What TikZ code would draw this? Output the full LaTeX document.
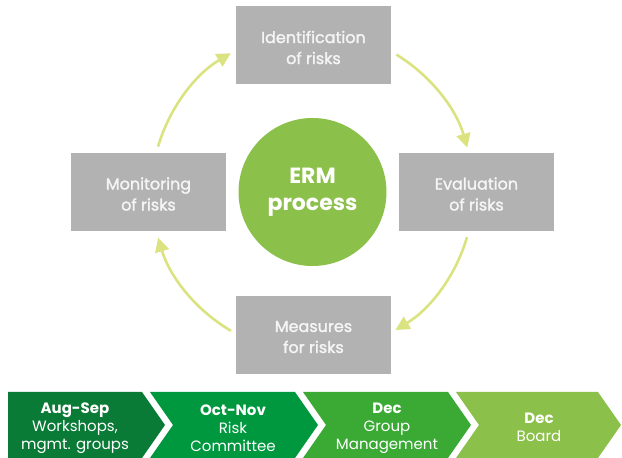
\documentclass[tikz,border=0pt]{standalone}
\usepackage{fontspec}
\setmainfont{Poppins}
\newfontfamily\medfont{Poppins}[FakeBold=1.6]
\usetikzlibrary{arrows.meta,calc}
\definecolor{boxgray}{RGB}{178,178,178}
\definecolor{boxtext}{RGB}{245,245,245}
\definecolor{ermgreen}{RGB}{139,192,74}
\definecolor{arrowcol}{RGB}{219,227,128}
\definecolor{chevA}{RGB}{10,122,55}
\definecolor{chevB}{RGB}{0,152,62}
\definecolor{chevC}{RGB}{58,170,53}
\definecolor{chevD}{RGB}{139,192,74}
\begin{document}
\begin{tikzpicture}[x=1pt,y=1pt,
  stepbox/.style={rectangle,fill=boxgray,minimum width=155pt,minimum height=78pt,inner sep=0pt},
  steptext/.style={text=boxtext,align=center,inner sep=0pt,font=\medfont\fontsize{16}{21}\selectfont},
  ermnode/.style={circle,fill=ermgreen,text=white,minimum size=148pt,inner sep=0pt,
    align=center,font=\fontsize{22}{27}\selectfont\bfseries},
  arr/.style={draw=arrowcol,line width=2.6pt,-{Triangle[length=14pt,width=14pt,fill=arrowcol]}},
  chevtext/.style={text=white,align=center,inner sep=0pt,font=\fontsize{15}{18}\selectfont}
]
\useasboundingbox (0,0) rectangle (622,458);

% process boxes
\node[stepbox] (ident) at (313.5,412.5) {};
\node[stepbox] (eval) at (476.5,266) {};
\node[stepbox] (meas) at (313.5,123) {};
\node[stepbox] (mon) at (148.5,266) {};
\node[steptext] (identt) at ([yshift=-2pt]ident.center) {Identification\\of risks};
\node[steptext] (evalt) at ([yshift=-2pt]eval.center) {Evaluation\\of risks};
\node[steptext] (meast) at ([yshift=-2pt]meas.center) {Measures\\for risks};
\node[steptext] (mont) at ([yshift=-2pt]mon.center) {Monitoring\\of risks};
\node[ermnode] (erm) at (312.5,266) {ERM\\process};

% cycle arrows (arcs around the ERM circle)
\coordinate (s1) at ($(erm)+(163.6:161)$);
\coordinate (s2) at ($(erm)+(58.6:161)$);
\coordinate (s3) at ($(erm)+(-16.3:161)$);
\coordinate (s4) at ($(erm)+(239.6:161)$);
\draw[arr] (s1) arc[start angle=163.6,end angle=120.5,radius=161];
\draw[arr] (s2) arc[start angle=58.6,end angle=16,radius=161];
\draw[arr] (s3) arc[start angle=-16.3,end angle=-59,radius=161];
\draw[arr] (s4) arc[start angle=239.6,end angle=196.5,radius=161];

% timeline chevrons
\fill[chevA] (8,66) -- (142,66) -- (165,33) -- (142,0) -- (8,0) -- cycle;
\fill[chevB] (150,66) -- (295,66) -- (318,33) -- (295,0) -- (150,0) -- (173,33) -- cycle;
\fill[chevC] (303,66) -- (448,66) -- (471,33) -- (448,0) -- (303,0) -- (326,33) -- cycle;
\fill[chevD] (456,66) -- (598,66) -- (621,33) -- (598,0) -- (456,0) -- (479,33) -- cycle;

\node[chevtext] (c1) at (75,30) {\textbf{Aug-Sep}\\Workshops,\\mgmt. groups};
\node[chevtext] (c2) at (233,30) {\textbf{Oct-Nov}\\Risk\\Committee};
\node[chevtext] (c3) at (387,30) {\textbf{Dec}\\Group\\Management};
\node[chevtext] (c4) at (539,31) {\textbf{Dec}\\Board};
\end{tikzpicture}
\end{document}
